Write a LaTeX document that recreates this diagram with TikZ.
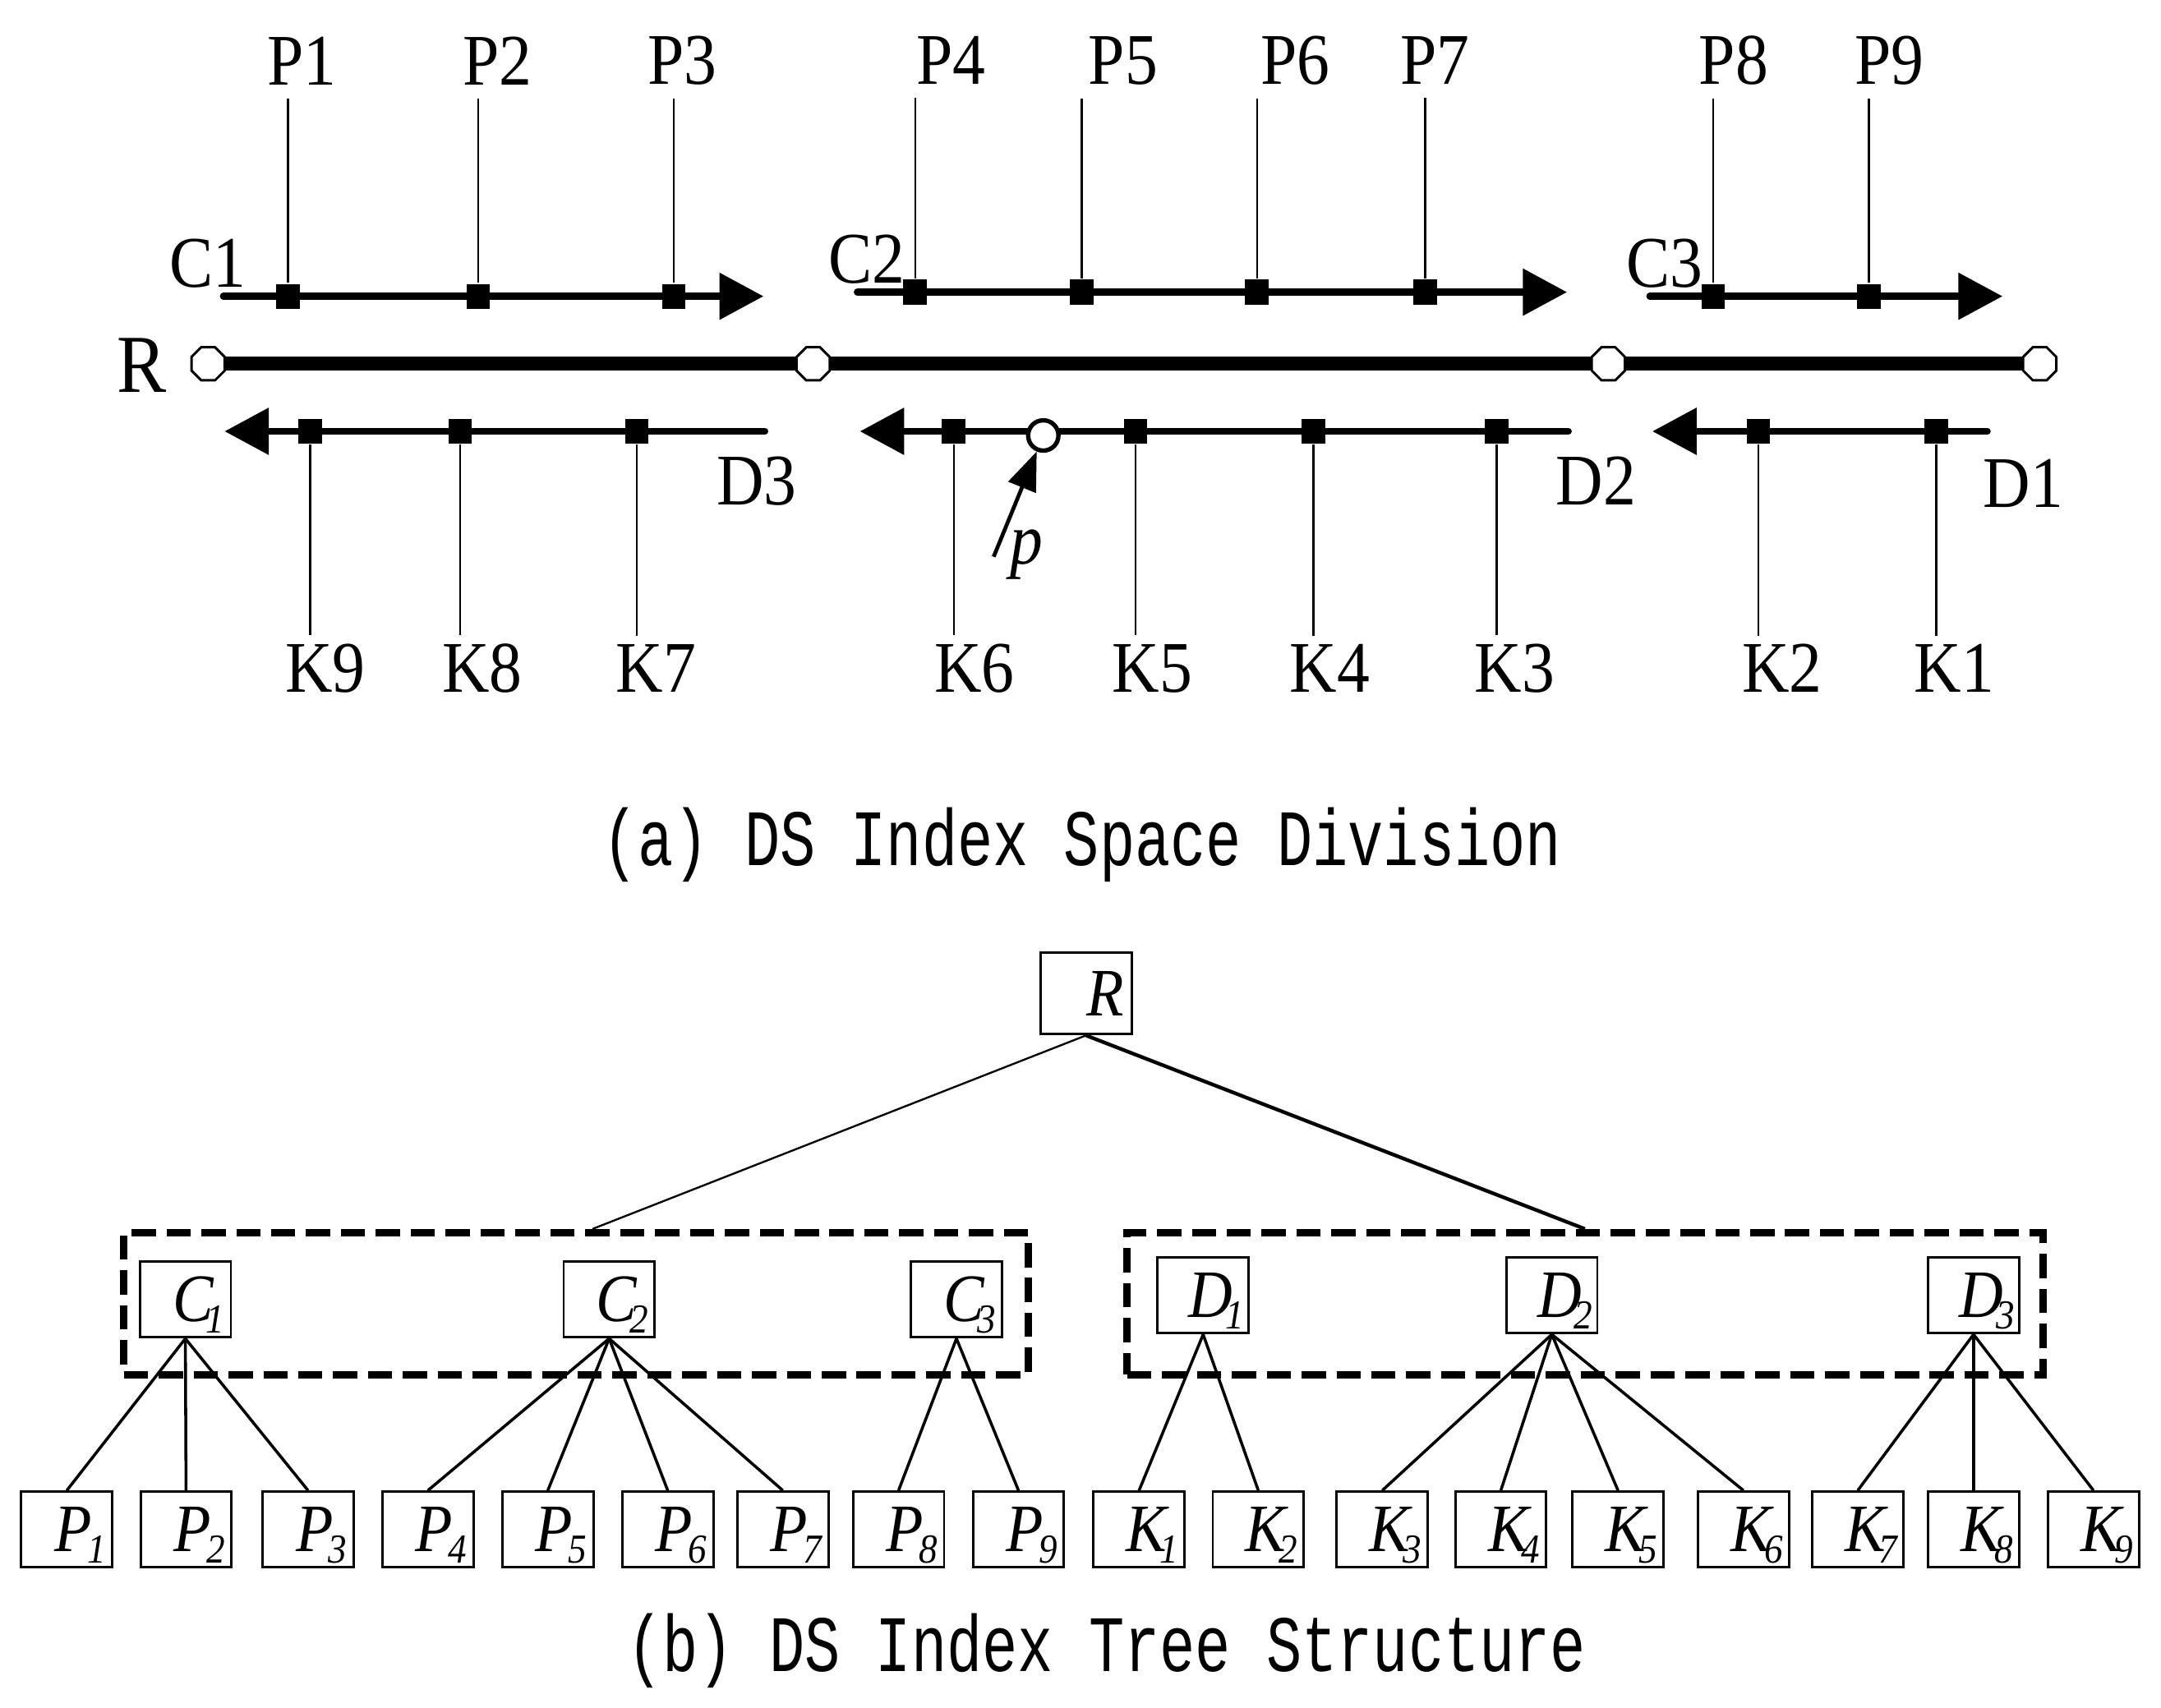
\documentclass[tikz,border=0pt]{standalone}
\usepackage{fontspec}
\setmainfont[FakeStretch=0.9]{Liberation Serif}
\newfontfamily\monocap[FakeStretch=0.74]{Liberation Mono}
\usetikzlibrary{arrows.meta,calc,shapes.geometric}

% letter with a lowered subscript, for the tree boxes
\newcommand\treelab[3][-1pt]{\hskip5.5pt\itshape #2\kern#1\smash{\raisebox{-2.3pt}{\fontsize{8.5}{8.5}\selectfont #3}}}

\begin{document}
\begin{tikzpicture}[x=0.01cm,y=-0.01cm,
    lbl/.style={inner sep=0pt,font=\fontsize{15}{15}\selectfont},
    sqmark/.style={fill,inner sep=0pt,minimum width=0.17cm,minimum height=0.18cm},
    joint/.style={regular polygon,regular polygon sides=8,draw,fill=white,line width=0.5pt,inner sep=0pt,minimum size=0.26cm},
    thinline/.style={line width=0.4pt},
    carrow/.style={line width=1.4pt,line cap=round,-{Triangle[length=9.1pt,width=9.4pt]}},
    tbox/.style={draw,line width=0.5pt,minimum width=0.66cm,minimum height=0.55cm,inner sep=0pt,font=\fontsize{14}{14}\selectfont},
    edge/.style={line width=0.6pt},
    group/.style={draw,line width=1.5pt,dash pattern=on 5pt off 2.2pt},
    caption/.style={anchor=base,inner sep=0pt,font=\monocap\fontsize{16.5}{16.5}\selectfont}]
    \useasboundingbox (0,0) rectangle (1568,1239);

    % (a) space division
    \node (R) [lbl,font=\fontsize{17}{17}\selectfont] at (103,265) {R};
    \node (o1) [joint] at (151,264) {};
    \node (o2) [joint] at (590,264) {};
    \node (o3) [joint] at (1167,264) {};
    \node (o4) [joint] at (1480,264) {};
    \draw[line width=2.9pt] (o1) -- (o2) -- (o3) -- (o4);

    \coordinate (c1s) at (162,215); \coordinate (c1e) at (554,215);
    \coordinate (c2s) at (622,212); \coordinate (c2e) at (1137,212);
    \coordinate (c3s) at (1197,215); \coordinate (c3e) at (1453,215);
    \draw[carrow] (c1s) -- (c1e);
    \draw[carrow] (c2s) -- (c2e);
    \draw[carrow] (c3s) -- (c3e);
    \node (c1) [lbl] at (151,191) {C1};
    \node (c2) [lbl] at (629,188) {C2};
    \node (c3) [lbl] at (1208,191) {C3};

    \coordinate (d3s) at (555,313); \coordinate (d3e) at (163,313);
    \coordinate (d2s) at (1138,313); \coordinate (d2e) at (624,313);
    \coordinate (d1s) at (1442,313); \coordinate (d1e) at (1199,313);
    \draw[carrow] (d3s) -- (d3e);
    \draw[carrow] (d2s) -- (d2e);
    \draw[carrow] (d1s) -- (d1e);
    \node (d3) [lbl] at (549,349) {D3};
    \node (d2) [lbl] at (1158,349) {D2};
    \node (d1) [lbl] at (1468,351) {D1};

    \foreach \n/\x/\lx/\y in {1/209/219/215,2/347/361/215,3/489/495/215,4/664/690/212,5/785/815/212,6/912/940/212,7/1034/1041/212,8/1243/1258/215,9/1356/1371/215}{
        \node (mP\n) [sqmark] at (\x,\y) {};
        \node (lP\n) [lbl] at (\lx,44) {P\n};
        \draw[thinline] (mP\n.north) -- ([yshift=-2.6pt]mP\n.north |- lP\n.south);
    }
    \foreach \n/\x/\lx in {9/225/236,8/334/350,7/462/476,6/692/707,5/824/836,4/953/965,3/1086/1099,2/1276/1293,1/1405/1418}{
        \node (mK\n) [sqmark] at (\x,313) {};
        \node (lK\n) [lbl] at (\lx,485) {K\n};
        \draw[thinline] (mK\n.south) -- ([yshift=1.6pt]mK\n.south |- lK\n.north);
    }

    % query point
    \node (pc) [circle,draw,fill=white,line width=0.9pt,inner sep=0pt,minimum size=0.22cm] at (757,316) {};
    \coordinate (ptail) at (721,404);
    \draw[line width=0.8pt,-{Triangle[length=8pt,width=6pt]}] (ptail) -- (pc);
    \node (plbl) [lbl,anchor=base,font=\itshape\fontsize{15}{15}\selectfont] at (745,409) {p};

    \node (capa) [caption] at (785,628) {(a) DS Index Space Division};

    % (b) tree
    \node (gC) [group,minimum width=6.56cm,minimum height=1.03cm] at (418,946) {};
    \node (gD) [group,minimum width=6.64cm,minimum height=1.03cm] at (1150,946) {};
    \node (tR) [tbox,minimum height=0.59cm] at (788,721) {\hskip8pt\itshape R};
    \draw[line width=0.4pt] (tR.south) -- ([xshift=3.4pt]gC.north);
    \draw[line width=0.75pt] (tR.south) -- (gD.north);

    \foreach \n/\x in {1/134.5,2/442,3/694}
        \node (tC\n) [tbox] at (\x,943) {\treelab[-1.5pt]{C}{\n}};
    \foreach \n/\x in {1/873,2/1126,3/1432}
        \node (tD\n) [tbox] at (\x,940) {\treelab[-1.5pt]{D}{\n}};
    \foreach \n/\x in {1/48.5,2/135,3/223.5,4/310.5,5/397.5,6/484.5,7/568,8/652,9/739}
        \node (tP\n) [tbox] at (\x,1110) {\treelab{P}{\n}};
    \foreach \n/\x in {1/826.5,2/913,3/1003,4/1089,5/1174,6/1265,7/1348,8/1432,9/1519}
        \node (tK\n) [tbox] at (\x,1110) {\treelab[-1.5pt]{K}{\n}};

    \foreach \a/\b in {C1/P1,C1/P2,C1/P3,C2/P4,C2/P5,C2/P6,C2/P7,C3/P8,C3/P9,D1/K1,D1/K2,D2/K3,D2/K4,D2/K5,D2/K6,D3/K7,D3/K8,D3/K9}
        \draw[edge] (t\a.south) -- (t\b.north);

    \node (capb) [caption] at (803,1213) {(b) DS Index Tree Structure};
\end{tikzpicture}
\end{document}
